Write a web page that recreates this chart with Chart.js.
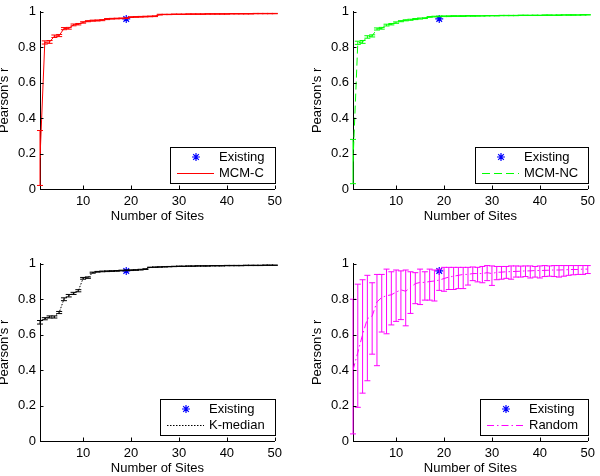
<!DOCTYPE html>
<html><head><meta charset="utf-8">
<script src="https://cdn.jsdelivr.net/npm/chart.js@4.4.1/dist/chart.umd.min.js"></script>
<style>
html,body{margin:0;padding:0;background:#fff;overflow:hidden;width:600px;height:476px;position:relative;}
.box{position:absolute;width:300px;height:238px;}
canvas{display:block;}
</style></head><body>
<div class="box" style="left:-13px;top:0"><canvas id="c1" width="300" height="238"></canvas></div>
<div class="box" style="left:300px;top:0"><canvas id="c2" width="300" height="238"></canvas></div>
<div class="box" style="left:-13px;top:252px"><canvas id="c3" width="300" height="238"></canvas></div>
<div class="box" style="left:300px;top:252px"><canvas id="c4" width="300" height="238"></canvas></div>
<script>
// ---- data ----
const sites = [1,2,3,4,5,6,7,8,9,10,11,12,13,14,15,16,17,18,19,20,21,22,23,24,25,26,27,28,29,30,31,32,33,34,35,36,37,38,39,40,41,42,43,44,45,46,47,48,49,50];
const xTicks = [10,20,30,40,50];
const yTicks = [0,0.2,0.4,0.6,0.8,1];
const yTickLabels = ['0','0.2','0.4','0.6','0.8','1'];
const existingSites = [19];
const existingR = [0.96];

const mcmC = [0.175,0.827,0.83,0.862,0.866,0.905,0.907,0.926,0.93,0.94,0.947,0.95,0.951,0.953,0.959,0.961,0.962,0.963,0.964,0.970,0.971,0.972,0.973,0.974,0.975,0.984,0.985,0.985,0.986,0.986,0.986,0.987,0.987,0.987,0.987,0.988,0.988,0.988,0.988,0.988,0.989,0.989,0.989,0.989,0.989,0.99,0.99,0.99,0.99,0.99];
const mcmCErr = [0.155,0.009,0.008,0.007,0.006,0.006,0.005,0.005,0.004,0.004,0.003,0.003,0.003,0.003,0.003,0.002,0.002,0.002,0.002,0.002,0.002,0.002,0.002,0.002,0.002,0.002,0.001,0.001,0.001,0.001,0.001,0.001,0.001,0.001,0.001,0.001,0.001,0.001,0.001,0.001,0.001,0.001,0.001,0.001,0.001,0.001,0.001,0.001,0.001,0.001];

const mcmNC = [0.155,0.825,0.83,0.858,0.864,0.903,0.907,0.925,0.93,0.939,0.947,0.952,0.955,0.959,0.962,0.964,0.971,0.973,0.974,0.975,0.975,0.976,0.976,0.976,0.977,0.977,0.977,0.977,0.978,0.978,0.978,0.979,0.979,0.979,0.979,0.98,0.98,0.98,0.98,0.98,0.981,0.981,0.981,0.981,0.982,0.982,0.982,0.982,0.983,0.983];
const mcmNCErr = [0.125,0.009,0.008,0.007,0.006,0.006,0.005,0.005,0.004,0.004,0.003,0.003,0.003,0.003,0.003,0.002,0.002,0.002,0.002,0.002,0.002,0.002,0.002,0.002,0.002,0.002,0.001,0.001,0.001,0.001,0.001,0.001,0.001,0.001,0.001,0.001,0.001,0.001,0.001,0.001,0.001,0.001,0.001,0.001,0.001,0.001,0.001,0.001,0.001,0.001];

const kMedian = [0.67,0.69,0.70,0.70,0.725,0.80,0.82,0.833,0.848,0.918,0.922,0.95,0.955,0.957,0.958,0.959,0.96,0.962,0.963,0.964,0.965,0.967,0.97,0.98,0.981,0.982,0.983,0.984,0.985,0.986,0.986,0.987,0.987,0.988,0.988,0.988,0.989,0.989,0.989,0.99,0.99,0.99,0.99,0.991,0.991,0.991,0.991,0.992,0.992,0.992];
const kMedianErr = [0.01,0.006,0.006,0.006,0.006,0.008,0.007,0.006,0.006,0.005,0.004,0.003,0.002,0.002,0.002,0.002,0.002,0.002,0.002,0.002,0.002,0.002,0.002,0.001,0.001,0.001,0.001,0.001,0.001,0.001,0.001,0.001,0.001,0.001,0.001,0.001,0.001,0.001,0.001,0.001,0.001,0.001,0.001,0.001,0.001,0.001,0.001,0.001,0.001,0.001];

const randomMean = [0.40,0.50,0.60,0.69,0.705,0.785,0.81,0.82,0.825,0.84,0.853,0.845,0.867,0.888,0.895,0.895,0.90,0.903,0.908,0.917,0.925,0.93,0.935,0.94,0.94,0.945,0.945,0.945,0.95,0.945,0.952,0.953,0.955,0.956,0.957,0.958,0.96,0.96,0.962,0.962,0.963,0.964,0.965,0.965,0.966,0.967,0.968,0.968,0.97,0.97];
const randomLow = [0.04,0.19,0.27,0.34,0.49,0.425,0.615,0.605,0.655,0.675,0.685,0.65,0.72,0.775,0.77,0.795,0.795,0.79,0.85,0.845,0.855,0.855,0.86,0.86,0.88,0.905,0.898,0.893,0.905,0.878,0.91,0.913,0.918,0.913,0.925,0.925,0.928,0.92,0.925,0.92,0.928,0.93,0.928,0.925,0.93,0.935,0.938,0.94,0.94,0.945];
const randomHigh = [0.80,0.885,0.91,0.935,0.893,0.94,0.94,0.97,0.955,0.965,0.96,0.965,0.955,0.95,0.97,0.955,0.97,0.965,0.97,0.98,0.98,0.98,0.98,0.98,0.98,0.982,0.98,0.985,0.99,0.988,0.985,0.985,0.985,0.988,0.988,0.987,0.988,0.988,0.985,0.988,0.99,0.988,0.99,0.99,0.99,0.99,0.99,0.99,0.99,0.99];

const panels = [
  {id:'c1', label:'MCM-C', values:mcmC, low:mcmC.map((v,i)=>v-mcmCErr[i]), high:mcmC.map((v,i)=>v+mcmCErr[i]), color:'#ff0000', dash:[]},
  {id:'c2', label:'MCM-NC', values:mcmNC, low:mcmNC.map((v,i)=>v-mcmNCErr[i]), high:mcmNC.map((v,i)=>v+mcmNCErr[i]), color:'#00ff00', dash:[8,4]},
  {id:'c3', label:'K-median', values:kMedian, low:kMedian.map((v,i)=>v-kMedianErr[i]), high:kMedian.map((v,i)=>v+kMedianErr[i]), color:'#000000', dash:[1.5,1.5]},
  {id:'c4', label:'Random', values:randomMean, low:randomLow, high:randomHigh, color:'#ff00ff', dash:[7,3,1.5,3]}
];

const FONT = '"Liberation Sans", Arial, Helvetica, sans-serif';
const FS = 13;

// ---- plugins ----
const errorBarPlugin = {
  id:'errbars',
  afterDatasetsDraw(chart){
    const {ctx, scales:{x,y}} = chart;
    chart.data.datasets.forEach(ds=>{
      if(!ds.errLow) return;
      ctx.save();
      ctx.strokeStyle = ds.borderColor; ctx.lineWidth = 1; ctx.setLineDash([]);
      ctx.beginPath();
      ds.data.forEach((p,j)=>{
        const px = x.getPixelForValue(p.x);
        const pl = y.getPixelForValue(ds.errLow[j]);
        const ph = y.getPixelForValue(ds.errHigh[j]);
        ctx.moveTo(px,pl); ctx.lineTo(px,ph);
        ctx.moveTo(px-3,pl); ctx.lineTo(px+3,pl);
        ctx.moveTo(px-3,ph); ctx.lineTo(px+3,ph);
      });
      ctx.stroke();
      ctx.restore();
    });
  }
};
const tickPlugin = {
  id:'inticks',
  afterDraw(chart){
    const {ctx, chartArea:a, scales:{x,y}} = chart;
    ctx.save(); ctx.strokeStyle='#000'; ctx.lineWidth=1; ctx.beginPath();
    xTicks.forEach(v=>{const px=Math.round(x.getPixelForValue(v))+0.5; ctx.moveTo(px,a.bottom); ctx.lineTo(px,a.bottom-3.5);});
    yTicks.forEach(v=>{const py=Math.round(y.getPixelForValue(v))+0.5; ctx.moveTo(a.left,py); ctx.lineTo(a.left+3.5,py);});
    ctx.stroke(); ctx.restore();
  }
};
const legendPlugin = {
  id:'boxlegend',
  afterDraw(chart){
    const {ctx, chartArea:a} = chart;
    const series = chart.data.datasets[1];
    ctx.save();
    ctx.font = FS + 'px ' + FONT;
    const tw = Math.max(ctx.measureText('Existing').width, ctx.measureText(series.label).width);
    const w = Math.round(49 + tw + 10), h = 36;
    const right = Math.round(a.right), bottom = Math.round(a.bottom) - 6;
    const left = right - w, top = bottom - h;
    ctx.fillStyle='#fff'; ctx.fillRect(left,top,w,h);
    ctx.strokeStyle='#000'; ctx.lineWidth=1; ctx.strokeRect(left+0.5,top+0.5,w,h);
    // star marker
    const sx = left+26, sy = top+10;
    ctx.strokeStyle='#0000ff'; ctx.lineWidth=1.2; ctx.beginPath();
    const r=4;
    for(let k=0;k<4;k++){const ang=k*Math.PI/4; ctx.moveTo(sx-r*Math.cos(ang),sy-r*Math.sin(ang)); ctx.lineTo(sx+r*Math.cos(ang),sy+r*Math.sin(ang));}
    ctx.stroke();
    // line sample
    ctx.strokeStyle=series.borderColor; ctx.lineWidth=1; ctx.setLineDash(series.borderDash||[]);
    ctx.beginPath(); ctx.moveTo(left+7,top+26.5); ctx.lineTo(left+44,top+26.5); ctx.stroke();
    ctx.setLineDash([]);
    ctx.fillStyle='#000'; ctx.textBaseline='middle'; ctx.textAlign='left';
    ctx.fillText('Existing', left+49, top+10.5);
    ctx.fillText(series.label, left+49, top+26.5);
    ctx.restore();
  }
};

Chart.defaults.font.family = FONT;
Chart.defaults.font.size = FS;
Chart.defaults.color = '#000';

panels.forEach(p=>{
  new Chart(document.getElementById(p.id), {
    type:'line',
    data:{datasets:[
      {label:'Existing', data:existingSites.map((s,i)=>({x:s,y:existingR[i]})), showLine:false,
       pointStyle:'star', pointRadius:4, pointBorderColor:'#0000ff', pointBackgroundColor:'#0000ff', pointBorderWidth:1.2, borderColor:'#0000ff'},
      {label:p.label, data:sites.map((s,i)=>({x:s,y:p.values[i]})), borderColor:p.color, borderWidth:1,
       borderDash:p.dash, pointRadius:0, tension:0, fill:false, errLow:p.low, errHigh:p.high}
    ]},
    options:{
      responsive:false, animation:false, devicePixelRatio:1,
      layout:{padding:{left:0,right:8,top:8,bottom:13}},
      plugins:{legend:{display:false}, tooltip:{enabled:false}},
      scales:{
        x:{type:'linear', min:1, max:50,
           afterBuildTicks:s=>{s.ticks = xTicks.map(v=>({value:v}));},
           afterFit:s=>{s.height=36;},
           grid:{display:true, drawOnChartArea:false, drawTicks:false},
           border:{display:true, color:'#000', width:1},
           ticks:{padding:5, maxRotation:0, autoSkip:false, color:'#000', font:{size:FS}, callback:v=>String(v)},
           title:{display:true, text:'Number of Sites', padding:{top:0,bottom:1}, color:'#000', font:{size:FS}}},
        y:{type:'linear', min:0, max:1,
           afterBuildTicks:s=>{s.ticks = yTicks.map(v=>({value:v}));},
           afterFit:s=>{s.width=53;},
           grid:{display:true, drawOnChartArea:false, drawTicks:false},
           border:{display:true, color:'#000', width:1},
           ticks:{padding:4, color:'#000', font:{size:FS}, callback:v=>{const i=yTicks.indexOf(v); return i>=0?yTickLabels[i]:String(v);}},
           title:{display:true, text:"Pearson's r", padding:{top:10,bottom:0}, color:'#000', font:{size:FS}}}
      }
    },
    plugins:[errorBarPlugin, tickPlugin, legendPlugin]
  });
});
</script>
</body></html>
